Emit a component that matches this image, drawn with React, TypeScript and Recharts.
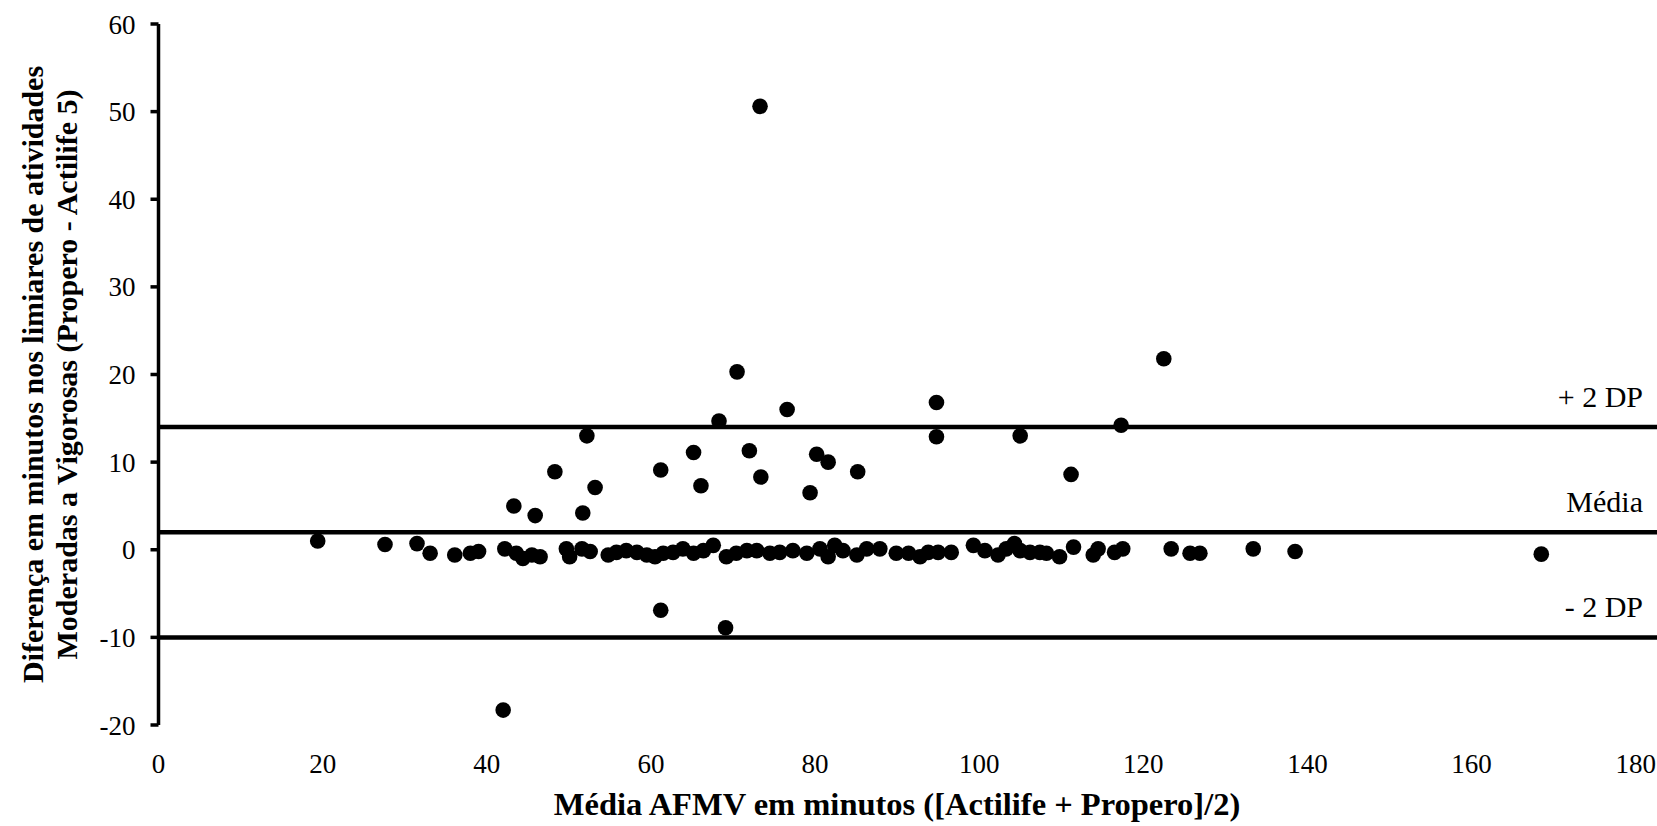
import { ReferenceLine, Scatter, ScatterChart, XAxis, YAxis } from 'recharts'

const FONT = '"Liberation Serif", "Times New Roman", serif'

// mean of the two methods (minutes)
const meanMinutes = [
  19.4, 27.6, 31.5, 33.1, 36.1, 38.0, 39.0, 42.2, 43.6, 44.4, 45.5, 46.5, 49.7, 50.1, 51.6,
  52.6, 54.8, 55.8, 57.0, 58.3, 59.5, 60.5, 61.5, 62.7, 63.9, 65.2, 66.4, 67.6, 69.2, 70.4,
  71.7, 72.9, 74.5, 75.7, 77.3, 79.0, 80.6, 81.6, 82.4, 83.4, 85.1, 86.3, 87.9, 89.9, 91.4,
  92.8, 93.8, 95.0, 96.6, 99.3, 100.7, 102.3, 103.3, 104.3, 105.0, 106.2, 107.4, 108.2, 109.8,
  111.5, 113.9, 114.5, 116.5, 117.5, 123.4, 125.7, 126.9, 133.4, 138.5, 168.5,
  43.3, 45.9, 51.7, 48.3, 53.2, 52.2, 61.2, 65.2, 66.1, 68.3, 70.5, 72.0, 73.3, 73.4, 76.6,
  79.4, 80.2, 81.6, 85.2, 94.8, 94.8, 105.0, 111.2, 117.3, 122.5, 61.2, 69.1, 42.0,
]

// difference Propero - Actilife 5 (minutes)
const diffMinutes = [
  1.0, 0.6, 0.7, -0.4, -0.6, -0.4, -0.2, 0.1, -0.4, -1.0, -0.6, -0.8, 0.1, -0.8, 0.1,
  -0.2, -0.6, -0.3, -0.1, -0.3, -0.6, -0.8, -0.4, -0.3, 0.1, -0.4, -0.1, 0.5, -0.8, -0.4,
  -0.1, -0.1, -0.4, -0.3, -0.1, -0.4, 0.1, -0.8, 0.5, -0.1, -0.6, 0.1, 0.1, -0.4, -0.4,
  -0.8, -0.3, -0.3, -0.3, 0.5, -0.1, -0.6, 0.1, 0.7, -0.1, -0.3, -0.3, -0.4, -0.8,
  0.3, -0.6, 0.1, -0.3, 0.1, 0.1, -0.4, -0.4, 0.1, -0.2, -0.5,
  5.0, 3.9, 4.2, 8.9, 7.1, 13.0, 9.1, 11.1, 7.3, 14.7, 20.3, 11.3, 50.6, 8.3, 16.0,
  6.5, 10.9, 10.0, 8.9, 16.8, 12.9, 13.0, 8.6, 14.2, 21.8, -6.9, -8.9, -18.3,
]

const xTicks = [0, 20, 40, 60, 80, 100, 120, 140, 160, 180]
const yTicks = [-20, -10, 0, 10, 20, 30, 40, 50, 60]

const meanDiff = 2
const upperLimit = 14
const lowerLimit = -10

const xMax = 182.6

const data = meanMinutes.map((x, i) => ({ x, y: diffMinutes[i] }))

const lineLabel = (text: string) => (props: any) => {
  const vb = props.viewBox || {}
  return (
    <text
      x={vb.x + vb.width - 14}
      y={vb.y - 20}
      textAnchor="end"
      fontFamily={FONT}
      fontSize={30}
      fill="#000"
    >
      {text}
    </text>
  )
}

const XTick = (props: any) => (
  <text
    x={props.x}
    y={props.y}
    dy="0.71em"
    textAnchor="middle"
    fontFamily={FONT}
    fontSize={27}
    fill="#000"
  >
    {props.payload.value}
  </text>
)

const YTick = (props: any) => (
  <text
    x={props.x}
    y={props.y}
    dy="0.355em"
    textAnchor="end"
    fontFamily={FONT}
    fontSize={27}
    fill="#000"
  >
    {props.payload.value}
  </text>
)

const Dot = (props: any) => <circle cx={props.cx} cy={props.cy} r={7.8} fill="#000" />

export default function App() {
  return (
    <div style={{ position: 'absolute', left: 0, top: 0, width: 1657, height: 826, fontFamily: FONT }}>
      <ScatterChart width={1657} height={826} margin={{ top: 24, right: 0, bottom: 0, left: 0 }}>
        <XAxis
          type="number"
          dataKey="x"
          domain={[0, xMax]}
          ticks={xTicks}
          axisLine={false}
          tickLine={false}
          tickSize={0}
          tickMargin={29}
          height={101}
          tick={XTick}
          label={{
            content: (props: any) => {
              const vb = props.viewBox
              return (
                <text
                  x={vb.x + (vb.width * 90) / xMax}
                  y={vb.y + 90}
                  textAnchor="middle"
                  fontFamily={FONT}
                  fontSize={32.5}
                  fontWeight="bold"
                  fill="#000"
                >
                  Média AFMV em minutos ([Actilife + Propero]/2)
                </text>
              )
            },
          }}
        />
        <YAxis
          type="number"
          dataKey="y"
          domain={[-20, 60]}
          ticks={yTicks}
          width={158.5}
          tickSize={8}
          tickMargin={15}
          axisLine={{ stroke: '#000', strokeWidth: 3.5 }}
          tickLine={{ stroke: '#000', strokeWidth: 3.5 }}
          tick={YTick}
          label={{
            content: (props: any) => {
              const vb = props.viewBox
              const cy = vb.y + vb.height / 2
              return (
                <g>
                  <text
                    x={32}
                    y={cy}
                    transform={`rotate(-90, 32, ${cy})`}
                    textAnchor="middle"
                    dominantBaseline="central"
                    fontFamily={FONT}
                    fontSize={30}
                    fontWeight="bold"
                    fill="#000"
                  >
                    Diferença em minutos nos limiares de atividades
                  </text>
                  <text
                    x={66}
                    y={cy}
                    transform={`rotate(-90, 66, ${cy})`}
                    textAnchor="middle"
                    dominantBaseline="central"
                    fontFamily={FONT}
                    fontSize={30}
                    fontWeight="bold"
                    fill="#000"
                  >
                    Moderadas a Vigorosas (Propero - Actilife 5)
                  </text>
                </g>
              )
            },
          }}
        />
        <ReferenceLine y={upperLimit} stroke="#000" strokeWidth={4.5} label={{ content: lineLabel('+ 2 DP') }} />
        <ReferenceLine y={meanDiff} stroke="#000" strokeWidth={4.5} label={{ content: lineLabel('Média') }} />
        <ReferenceLine y={lowerLimit} stroke="#000" strokeWidth={4.5} label={{ content: lineLabel('- 2 DP') }} />
        <Scatter data={data} fill="#000" shape={Dot} isAnimationActive={false} />
      </ScatterChart>
    </div>
  )
}
